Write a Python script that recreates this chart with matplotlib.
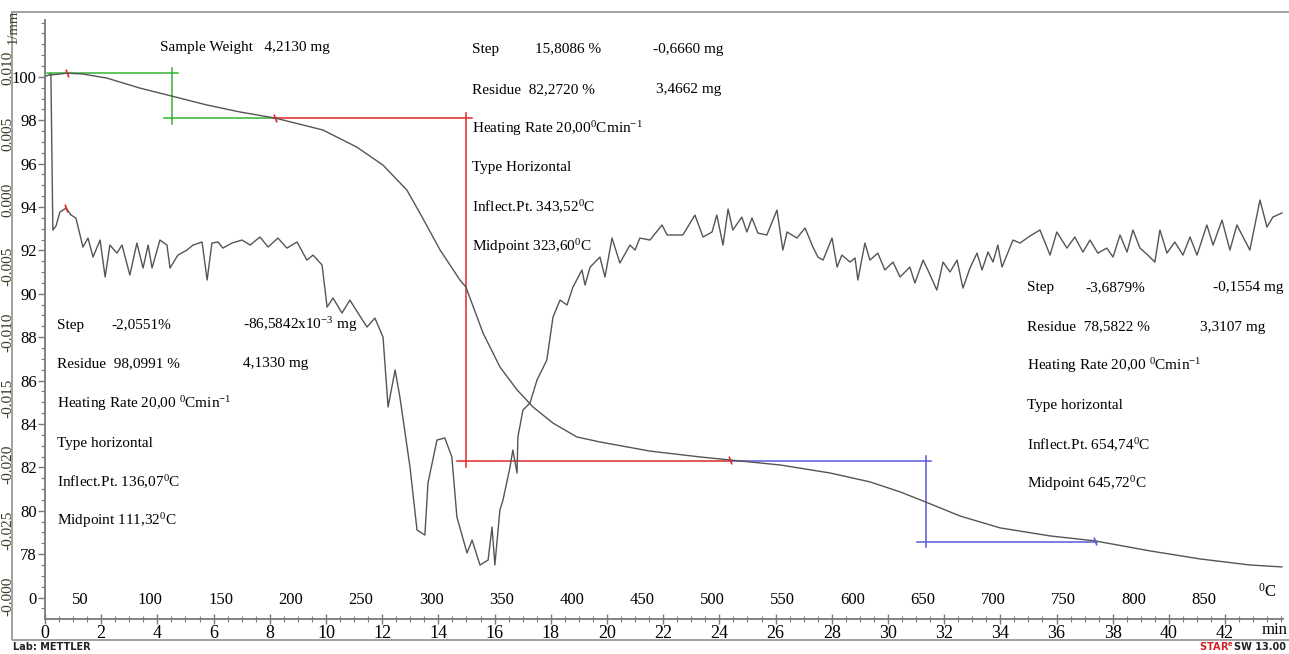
import matplotlib.pyplot as plt
from matplotlib.patches import Rectangle
from matplotlib.ticker import MultipleLocator
import matplotlib.transforms as mtransforms

plt.rcParams['font.family'] = ['Liberation Serif', 'DejaVu Serif']
plt.rcParams['mathtext.fontset'] = 'custom'
plt.rcParams['mathtext.rm'] = 'Liberation Serif'
plt.rcParams['mathtext.default'] = 'regular'

# TG curve: time (min) vs residual mass (%)
tg_time = [0.18, 0.78, 1.35, 2.21, 3.38, 4.52, 5.77, 6.94, 8.19, 9.89, 11.10, 12.03,
           12.88, 13.42, 14.06, 14.77, 14.98, 15.59, 16.19, 16.80, 17.37, 18.08, 18.93,
           19.75, 21.53, 23.31, 24.38, 26.16, 27.94, 29.36, 30.43, 31.35, 32.56, 33.99,
           35.77, 37.37, 39.32, 41.10, 42.88, 44.02]
tg_pct = [100.08, 100.17, 100.13, 99.94, 99.48, 99.11, 98.70, 98.38, 98.10, 97.55, 96.76,
          95.93, 94.78, 93.54, 92.02, 90.63, 90.31, 88.19, 86.63, 85.57, 84.78, 84.04,
          83.40, 83.17, 82.75, 82.48, 82.34, 82.11, 81.74, 81.33, 80.87, 80.40, 79.76,
          79.21, 78.84, 78.61, 78.15, 77.78, 77.50, 77.41]

# DTG curve: time (min) vs dm/dt (1/min)
dtg_time = [0.04, 0.21, 0.25, 0.28, 0.39, 0.53, 0.75, 0.93, 1.10, 1.35, 1.53, 1.71, 1.96,
            2.14, 2.31, 2.56, 2.74, 3.02, 3.27, 3.49, 3.67, 3.81, 4.09, 4.34, 4.45, 4.73,
            5.05, 5.27, 5.59, 5.77, 5.94, 6.16, 6.33, 6.65, 7.01, 7.30, 7.65, 7.94, 8.29,
            8.61, 8.97, 9.32, 9.54, 9.86, 10.04, 10.25, 10.57, 10.85, 11.14, 11.46, 11.74,
            12.03, 12.21, 12.46, 12.63, 12.99, 13.24, 13.52, 13.63, 13.95, 14.23, 14.48,
            14.66, 15.02, 15.20, 15.48, 15.77, 15.91, 16.01, 16.19, 16.30, 16.55, 16.65,
            16.80, 16.83, 17.01, 17.26, 17.51, 17.86, 18.08, 18.33, 18.58, 18.79, 19.11,
            19.22, 19.40, 19.75, 19.93, 20.18, 20.46, 20.82, 21.00, 21.17, 21.53, 21.96,
            22.14, 22.70, 23.13, 23.42, 23.74, 23.91, 24.13, 24.31, 24.48, 24.80, 24.98,
            25.16, 25.37, 25.69, 26.05, 26.26, 26.41, 26.76, 27.05, 27.33, 27.51, 27.69,
            28.01, 28.19, 28.36, 28.65, 28.83, 28.93, 29.18, 29.36, 29.64, 29.89, 30.18,
            30.43, 30.78, 30.96, 31.25, 31.42, 31.74, 31.96, 32.21, 32.46, 32.67, 32.92,
            33.17, 33.35, 33.56, 33.74, 33.91, 34.06, 34.45, 34.70, 35.05, 35.41, 35.77,
            36.01, 36.37, 36.65, 36.94, 37.19, 37.47, 37.79, 38.01, 38.26, 38.51, 38.72,
            38.97, 39.25, 39.50, 39.68, 39.93, 40.21, 40.50, 40.75, 41.00, 41.35, 41.57,
            41.89, 42.17, 42.42, 42.88, 43.24, 43.49, 43.70, 44.02]
dtg = [0.00939, 0.00955, 0.00303, -0.00227, -0.00197, -0.00091, -0.00061, -0.00114,
       -0.00136, -0.00356, -0.00288, -0.00432, -0.00303, -0.00583, -0.00341, -0.00402,
       -0.00341, -0.00568, -0.00326, -0.00515, -0.00341, -0.00515, -0.00303, -0.00341,
       -0.00515, -0.00417, -0.00379, -0.00341, -0.00318, -0.00606, -0.00326, -0.00318,
       -0.00364, -0.00326, -0.00303, -0.00341, -0.00280, -0.00356, -0.00288, -0.00364,
       -0.00318, -0.00455, -0.00417, -0.00492, -0.00811, -0.00742, -0.00856, -0.00758,
       -0.00856, -0.00962, -0.00894, -0.01038, -0.01568, -0.01288, -0.01492, -0.02023,
       -0.02500, -0.02538, -0.02144, -0.01818, -0.01803, -0.01947, -0.02402, -0.02674,
       -0.02576, -0.02765, -0.02727, -0.02477, -0.02765, -0.02348, -0.02273, -0.02023,
       -0.01894, -0.02068, -0.01795, -0.01591, -0.01538, -0.01364, -0.01212, -0.00886,
       -0.00758, -0.00795, -0.00659, -0.00530, -0.00644, -0.00508, -0.00432, -0.00583,
       -0.00288, -0.00477, -0.00341, -0.00379, -0.00288, -0.00303, -0.00189, -0.00265,
       -0.00265, -0.00114, -0.00280, -0.00242, -0.00114, -0.00341, -0.00068, -0.00227,
       -0.00129, -0.00242, -0.00136, -0.00250, -0.00265, -0.00076, -0.00379, -0.00242,
       -0.00288, -0.00212, -0.00356, -0.00432, -0.00455, -0.00288, -0.00508, -0.00417,
       -0.00470, -0.00439, -0.00606, -0.00326, -0.00455, -0.00402, -0.00530, -0.00470,
       -0.00583, -0.00508, -0.00629, -0.00455, -0.00530, -0.00682, -0.00470, -0.00545,
       -0.00455, -0.00667, -0.00515, -0.00402, -0.00530, -0.00394, -0.00470, -0.00341,
       -0.00508, -0.00303, -0.00326, -0.00273, -0.00227, -0.00417, -0.00242, -0.00364,
       -0.00280, -0.00394, -0.00303, -0.00402, -0.00364, -0.00432, -0.00265, -0.00394,
       -0.00227, -0.00364, -0.00417, -0.00470, -0.00227, -0.00402, -0.00318, -0.00417,
       -0.00280, -0.00417, -0.00189, -0.00341, -0.00152, -0.00379, -0.00189, -0.00379,
       0.00000, -0.00205, -0.00129, -0.00098]
assert len(dtg_time) == len(dtg)
assert len(tg_time) == len(tg_pct)

# mass-loss steps (residue %, step %, start / evaluation / end time in min)
step_residue = [98.0991, 82.2720, 78.5822]
step_loss = [2.0551, 15.8086, 3.6879]
step_start = [0.07, 8.10, 24.48]
step_mid = [4.52, 14.98, 31.35]
step_end = [8.26, 24.48, 37.44]
step_colors = ['#33b533', '#e0282a', '#5a5ad6']

pct_ticks = [76, 78, 80, 82, 84, 86, 88, 90, 92, 94, 96, 98, 100]
pct_labels = ['0', '78', '80', '82', '84', '86', '88', '90', '92', '94', '96', '98', '100']
dtg_ticks = [-0.030, -0.025, -0.020, -0.015, -0.010, -0.005, 0.000, 0.005, 0.010]
dtg_labels = ['-0.000', '-0.025', '-0.020', '-0.015', '-0.010', '-0.005', '0.000', '0.005', '0.010']
temps = [50, 100, 150, 200, 250, 300, 350, 400, 450, 500, 550, 600, 650, 700, 750, 800, 850]
t_start = 25.0   # °C
rate = 20.0      # °C/min

W, H = 1289, 654
fig = plt.figure(figsize=(W / 100, H / 100), dpi=100)
ax = fig.add_axes([45 / W, 1 - 619 / H, (1283 - 45) / W, (619 - 20) / H])
ax.set_xlim(0, 44.06)
ax.set_ylim(75.01, 102.62)

axis_c = '#7a7a7a'
for s in ['top', 'right']:
    ax.spines[s].set_visible(False)
for s in ['left', 'bottom']:
    ax.spines[s].set_color(axis_c)
    ax.spines[s].set_linewidth(1.3)

ax.plot(tg_time, tg_pct, color='#555555', lw=1.0, zorder=3)

ax2 = ax.twinx()
ax2.set_ylim(-0.03174, 0.01364)
for s in ax2.spines.values():
    s.set_visible(False)
ax2.plot(dtg_time, dtg, color='#555555', lw=1.0, zorder=3)

# step evaluation lines
for r, d, t0, tm, t1, c in zip(step_residue, step_loss, step_start, step_mid, step_end, step_colors):
    top = r + d
    ax.plot([t0, tm + 0.2], [top, top], color=c, lw=1.1, zorder=2)
    ax.plot([tm - 0.3, t1], [r, r], color=c, lw=1.1, zorder=2)
    ax.plot([tm, tm], [r - 0.25, top + 0.25], color=c, lw=1.1, zorder=2)

# evaluation markers on the curves
ax.plot([0.78, 8.19, 24.38], [100.17, 98.10, 82.34], ls='none', marker=(2, 0, 20),
        ms=6, mew=1.2, color='#e0282a', zorder=4)
ax.plot([37.37], [78.61], ls='none', marker=(2, 0, 20), ms=6, mew=1.2, color='#5a5ad6', zorder=4)
ax2.plot([0.75], [-0.00061], ls='none', marker=(2, 0, 20), ms=6, mew=1.2, color='#e0282a', zorder=4)

# axes ticks
ax.set_yticks(pct_ticks)
ax.set_yticklabels(pct_labels)
ax.yaxis.set_minor_locator(MultipleLocator(0.5))
ax.tick_params(axis='y', which='major', direction='out', length=5, width=1, color=axis_c,
               labelsize=12, pad=1)
ax.tick_params(axis='y', which='minor', direction='out', length=3, width=0.8, color=axis_c)

ax2.yaxis.tick_left()
ax2.set_yticks(dtg_ticks)
ax2.set_yticklabels(dtg_labels, rotation=90, va='center')
ax2.tick_params(axis='y', length=0, pad=22, labelsize=11, labelcolor='#3b3b25')

ax.set_xticks(range(0, 43, 2))
ax.xaxis.set_minor_locator(MultipleLocator(0.5))
ax.tick_params(axis='x', which='major', direction='inout', length=7, width=1, color=axis_c,
               labelsize=13, pad=1)
ax.tick_params(axis='x', which='minor', direction='inout', length=4, width=0.8, color=axis_c)

# temperature scale drawn above the time axis
trans = mtransforms.blended_transform_factory(ax.transData, ax.transAxes)
for T in temps:
    ax.text((T - t_start) / rate, 0.031, str(T), transform=trans, ha='center', va='center',
            fontsize=12)

def ftext(x, y, s, **kw):
    fig.text(x / W, 1 - y / H, s, va='center', **kw)

ftext(1258, 592, '$^{0}$C', fontsize=12)
ftext(1262, 630, 'min', fontsize=12)
ftext(13, 27, '1/mm', fontsize=10.5, rotation=90, ha='center', color='#3b3b25')

fs = 11
ftext(160, 48, 'Sample Weight   4,2130 mg', fontsize=fs)

ftext(472, 49, 'Step', fontsize=fs)
ftext(535, 49, '15,8086 %', fontsize=fs)
ftext(653, 49, '-0,6660 mg', fontsize=fs)
ftext(472, 90, 'Residue  82,2720 %', fontsize=fs)
ftext(656, 90, '3,4662 mg', fontsize=fs)
ftext(472, 129, 'Heating Rate 20,00$^{0}$Cmin$^{-1}$', fontsize=fs)
ftext(472, 168, 'Type Horizontal', fontsize=fs)
ftext(472, 207, 'Inflect.Pt. 343,52$^{0}$C', fontsize=fs)
ftext(472, 247, 'Midpoint 323,60$^{0}$C', fontsize=fs)

ftext(57, 325, 'Step', fontsize=fs)
ftext(111, 325, '-2,0551%', fontsize=fs)
ftext(243, 325, '-86,5842x10$^{-3}$ mg', fontsize=fs)
ftext(57, 364, 'Residue  98,0991 %', fontsize=fs)
ftext(243, 364, '4,1330 mg', fontsize=fs)
ftext(57, 404, 'Heating Rate 20,00 $^{0}$Cmin$^{-1}$', fontsize=fs)
ftext(57, 443, 'Type horizontal', fontsize=fs)
ftext(57, 482, 'Inflect.Pt. 136,07$^{0}$C', fontsize=fs)
ftext(57, 521, 'Midpoint 111,32$^{0}$C', fontsize=fs)

ftext(1027, 288, 'Step', fontsize=fs)
ftext(1085, 288, '-3,6879%', fontsize=fs)
ftext(1213, 288, '-0,1554 mg', fontsize=fs)
ftext(1027, 327, 'Residue  78,5822 %', fontsize=fs)
ftext(1200, 327, '3,3107 mg', fontsize=fs)
ftext(1027, 366, 'Heating Rate 20,00 $^{0}$Cmin$^{-1}$', fontsize=fs)
ftext(1027, 406, 'Type horizontal', fontsize=fs)
ftext(1027, 445, 'Inflect.Pt. 654,74$^{0}$C', fontsize=fs)
ftext(1027, 484, 'Midpoint 645,72$^{0}$C', fontsize=fs)

# outer frame and footer
fig.add_artist(Rectangle((12 / W, 1 - 640 / H), 1.0, (640 - 12) / H, transform=fig.transFigure,
                         fill=False, ec='#9a9a9a', lw=1.3))
ftext(13, 647, 'Lab: METTLER', fontsize=7, family='DejaVu Sans', weight='bold', color='#222222')
ftext(1286, 647, 'SW 13.00', fontsize=7, family='DejaVu Sans', weight='bold', ha='right',
      color='#222222')
ftext(1234, 647, 'STAR$^{e}$', fontsize=7, family='DejaVu Sans', weight='bold', ha='right',
      color='#d42020')

fig.savefig('out.png', dpi=100, facecolor='white')
